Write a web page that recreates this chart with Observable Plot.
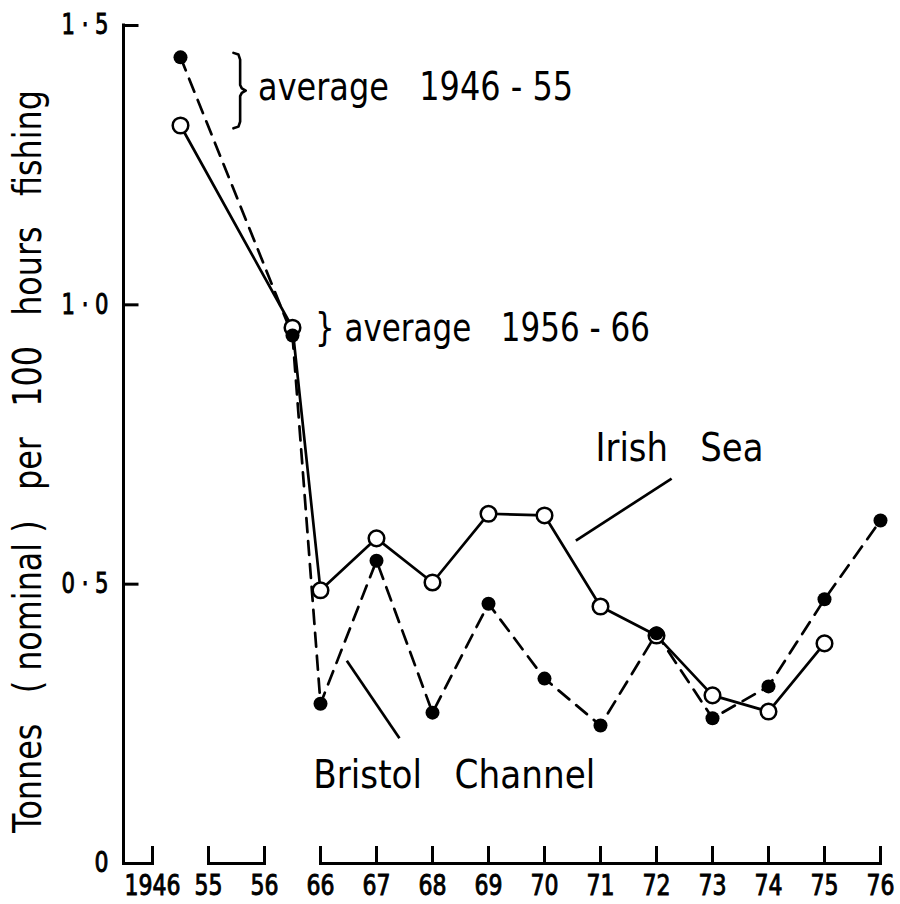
<!DOCTYPE html>
<html>
<head>
<meta charset="utf-8">
<script src="https://cdn.jsdelivr.net/npm/d3@7"></script>
<script src="https://cdn.jsdelivr.net/npm/@observablehq/plot@0.6"></script>
<style>
  html, body { margin: 0; padding: 0; background: #fff; }
  #chart svg { display: block; }
</style>
</head>
<body>
<div id="chart"></div>
<script>
// ---- data ----
const xLabels = ["1946", "55", "56", "66", "67", "68", "69", "70", "71", "72", "73", "74", "75", "76"];
const xIndex = [0, 1, 2, 3, 4, 5, 6, 7, 8, 9, 10, 11, 12, 13];
const yTicks = [0, 0.5, 1.0, 1.5];
const yTickLabels = ["0", "0 · 5", "1 · 0", "1 · 5"];
// periods: two averages (between their tick pairs), then yearly values 1966–1976
const periods = ["1946-55", "1956-66", "1966", "1967", "1968", "1969", "1970", "1971", "1972", "1973", "1974", "1975", "1976"];
const periodX = [0.5, 2.5, 3, 4, 5, 6, 7, 8, 9, 10, 11, 12, 13];
const bristolChannel = [1.443, 0.945, 0.286, 0.542, 0.270, 0.465, 0.331, 0.247, 0.412, 0.260, 0.317, 0.473, 0.614];
const irishSea = [1.321, 0.959, 0.489, 0.582, 0.503, 0.626, 0.623, 0.460, 0.408, 0.301, 0.272, 0.394, null];

const NB = "\u00a0";
const yTitle = ["Tonnes", "(" + NB + "nominal" + NB + ")", "per", "100", "hours", "fishing"].join(NB + NB + NB);
const annotations = [
  {text: "average" + NB + NB + " 1946 - 55", x: 1.885, y: 1.366},
  {text: "}" + NB + "average" + NB + NB + " 1956 - 66", x: 2.90, y: 0.936},
  {text: "Irish" + NB + NB + NB + "Sea", x: 7.91, y: 0.721},
  {text: "Bristol" + NB + NB + NB + "Channel", x: 2.87, y: 0.136}
];
const leaders = [
  {x1: 9.27, y1: 0.689, x2: 7.56, y2: 0.578},
  {x1: 3.47, y1: 0.363, x2: 4.41, y2: 0.224}
];

// ---- layout (pixel sizes, kept apart from the data) ----
const annotationWidths = [315, 335, 168, 282];
const titleLength = 743;
const digitWidth = 14;

// ---- derived tables ----
const bristolData = periods.map((p, i) => ({p, x: periodX[i], v: bristolChannel[i]})).filter(d => d.v != null);
const irishData = periods.map((p, i) => ({p, x: periodX[i], v: irishSea[i]})).filter(d => d.v != null);

const step = (880 - 152) / 13;   // px per index
const xMin = -29 / step;         // y-axis position in index units
const yPx = 838 / 1.5;           // px per unit value
const axisSegments = [{a: xMin, b: 0}, {a: 1, b: 2}, {a: 3, b: 13}];

// brace for first average, spanning the two average values
const bx = 1.565, bTop = bristolChannel[0] + 0.008, bBot = irishSea[0] - 0.005, bMid = (bTop + bBot) / 2;
const brace = [
  [bx - 0.12, bTop], [bx - 0.03, bTop - 0.003], [bx, bTop - 0.012],
  [bx, bMid + 0.01], [bx + 0.03, bMid + 0.004], [bx + 0.1, bMid],
  [bx + 0.03, bMid - 0.004], [bx, bMid - 0.01],
  [bx, bBot + 0.012], [bx - 0.03, bBot + 0.003], [bx - 0.12, bBot]
];

const textFont = "'DejaVu Sans Condensed', 'DejaVu Sans', sans-serif";
const tickFont = "'DejaVu Sans Condensed', 'DejaVu Sans', sans-serif";

const chart = Plot.plot({
  width: 900,
  height: 904,
  marginLeft: 123,
  marginRight: 20,
  marginTop: 25,
  marginBottom: 41,
  x: {domain: [xMin, 13]},
  y: {domain: [0, 1.5]},
  style: {background: "#fff", color: "#000"},
  marks: [
    // axes
    Plot.axisX({ticks: xIndex, tickFormat: i => xLabels[i], tickSize: 0, tickPadding: 12, label: null,
      fontSize: 28, fontFamily: tickFont}),
    Plot.axisY({ticks: yTicks, tickFormat: d => yTickLabels[yTicks.indexOf(d)], tickSize: 0, tickPadding: 15, label: null,
      fontSize: 28, fontFamily: tickFont}),
    Plot.ruleX([xMin], {y1: 0, y2: 1.5, stroke: "#000", strokeWidth: 3, strokeLinecap: "square"}),
    Plot.link(yTicks.filter(d => d > 0), {x1: xMin, x2: xMin + 15 / step, y1: d => d, y2: d => d, stroke: "#000", strokeWidth: 3}),
    Plot.link(axisSegments, {x1: "a", x2: "b", y1: 0, y2: 0, stroke: "#000", strokeWidth: 3, strokeLinecap: "square"}),
    Plot.ruleX(xIndex, {y1: 0, y2: 17 / yPx, stroke: "#000", strokeWidth: 3}),
    // y title
    Plot.text([yTitle], {x: () => xMin, y: () => 0.7195, dx: -95, rotate: -90, text: d => d,
      textAnchor: "middle", lineAnchor: "middle", fontSize: 39, fontFamily: textFont, fill: "#000"}),
    // series lines
    Plot.line(bristolData, {x: "x", y: "v", stroke: "#000", strokeWidth: 2.7, strokeDasharray: "14,9"}),
    Plot.line(irishData, {x: "x", y: "v", stroke: "#000", strokeWidth: 2.7}),
    Plot.dot(irishData, {x: "x", y: "v", r: 7.8, fill: "#fff", stroke: "#000", strokeWidth: 2.5}),
    Plot.dot(bristolData, {x: "x", y: "v", r: 7, fill: "#000", stroke: "none"}),
    // annotations
    Plot.line(brace, {x: d => d[0], y: d => d[1], stroke: "#000", strokeWidth: 2.6, strokeLinejoin: "round", strokeLinecap: "round"}),
    Plot.link(leaders, {x1: "x1", y1: "y1", x2: "x2", y2: "y2", stroke: "#000", strokeWidth: 2.7}),
    Plot.text(annotations, {x: "x", y: "y", text: "text", textAnchor: "start", lineAnchor: "bottom",
      fontSize: 39, fontFamily: textFont, fill: "#000"})
  ]
});

// narrow the glyphs (the original uses a condensed DIN-like face)
const svg = d3.select(chart);
svg.selectAll('g[aria-label="x-axis tick label"] text, g[aria-label="y-axis tick label"] text')
  .each(function () {
    const t = this.textContent;
    const digits = t.replace(/[^0-9]/g, "").length;
    const extra = t.includes("·") ? 19 : 0;
    this.setAttribute("textLength", digits * digitWidth + extra);
    this.setAttribute("lengthAdjust", "spacingAndGlyphs");
    this.setAttribute("stroke", "#000");
    this.setAttribute("stroke-width", "0.9");
  });
svg.selectAll('g[aria-label="text"] text').each(function () {
  const t = this.textContent;
  const i = annotations.findIndex(a => a.text === t);
  const len = i >= 0 ? annotationWidths[i] : (t === yTitle ? titleLength : null);
  if (len) {
    this.setAttribute("textLength", len);
    this.setAttribute("lengthAdjust", "spacingAndGlyphs");
  }
});

document.getElementById("chart").appendChild(chart);
</script>
</body>
</html>
